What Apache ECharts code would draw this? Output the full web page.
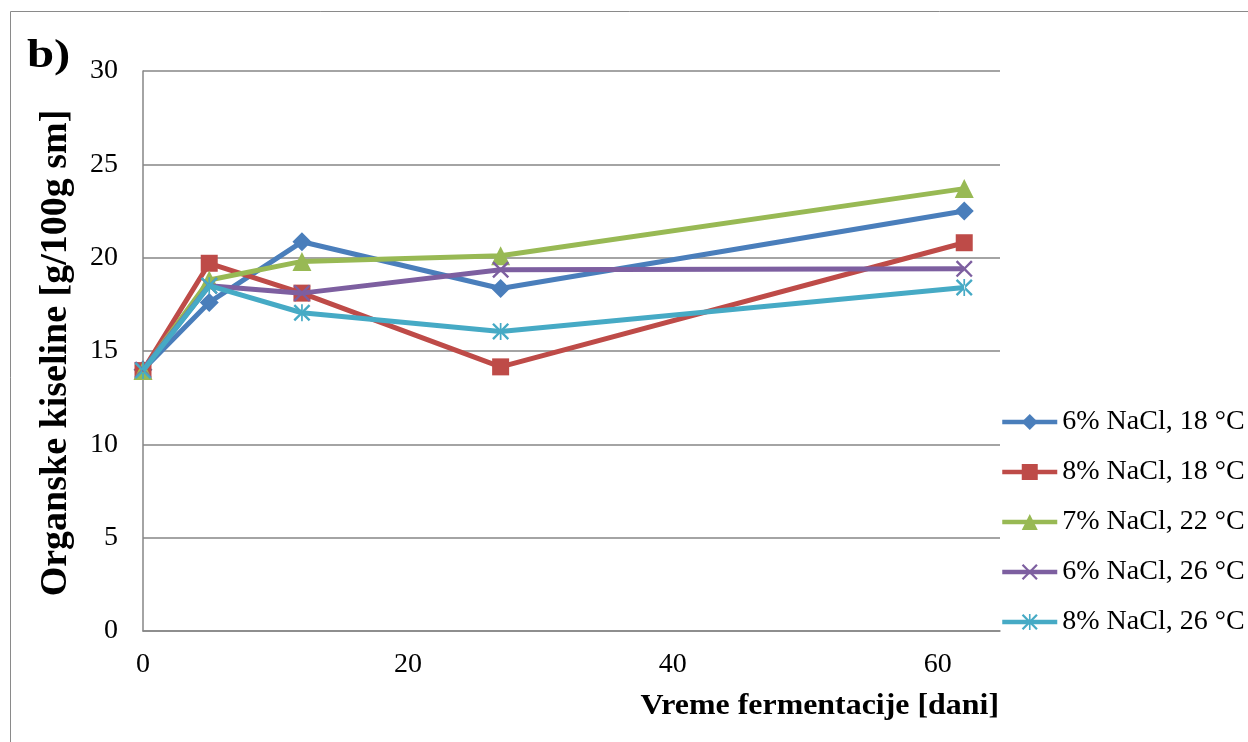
<!DOCTYPE html>
<html>
<head>
<meta charset="utf-8">
<script src="https://cdn.jsdelivr.net/npm/echarts@6/dist/echarts.min.js"></script>
<style>
html,body{margin:0;padding:0;background:#fff;overflow:hidden;}
#chart{width:1248px;height:742px;}
</style>
</head>
<body>
<div id="chart"></div>
<script>
// Data
const days = [0, 5, 12, 27, 62];
const seriesNames = ['6% NaCl, 18 °C', '8% NaCl, 18 °C', '7% NaCl, 22 °C', '6% NaCl, 26 °C', '8% NaCl, 26 °C'];
const s6_18 = [14.0, 17.6, 20.85, 18.35, 22.5];
const s8_18 = [13.95, 19.7, 18.1, 14.15, 20.8];
const s7_22 = [13.95, 18.8, 19.8, 20.1, 23.7];
const s6_26 = [14.0, 18.5, 18.1, 19.35, 19.4];
const s8_26 = [13.95, 18.5, 17.05, 16.05, 18.4];
const yTicks = [0, 5, 10, 15, 20, 25, 30];
const xTicks = [0, 20, 40, 60];
const panelLabel = 'b)';
const xTitle = 'Vreme fermentacije [dani]';
const yTitle = 'Organske kiseline [g/100g sm]';

const colors = ['#4A7EBB', '#BE4B48', '#98B954', '#7D5FA0', '#46AAC5'];
const xPath = 'path://M0,2 L2,0 L10,8 L18,0 L20,2 L12,10 L20,18 L18,20 L10,12 L2,20 L0,18 L8,10 Z';
const starPath = 'path://M0,2 L2,0 L10,8 L18,0 L20,2 L12,10 L20,18 L18,20 L10,12 L2,20 L0,18 L8,10 Z M9,0 L9,20 L11,20 L11,0 Z';
const symbols = ['diamond', 'rect', 'triangle', xPath, starPath];
const symSizes = [19, 17, 19, 17, 17];
const allData = [s6_18, s8_18, s7_22, s6_26, s8_26];

const font = '"Liberation Serif", "Times New Roman", serif';

const chart = echarts.init(document.getElementById('chart'));
chart.setOption({
  animation: false,
  backgroundColor: '#fff',
  textStyle: { fontFamily: font },
  grid: { left: 143, top: 71, width: 857, height: 560, containLabel: false },
  graphic: [
    { type: 'rect', shape: { x: 10.5, y: 11.5, width: 1400, height: 900 }, style: { fill: 'none', stroke: '#8a8a8a', lineWidth: 1 }, z: -10 },
    { type: 'text', x: 27, y: 57, scaleX: 1.25, style: { x: 0, y: 0, text: panelLabel, font: 'bold 39px ' + font, fill: '#000', align: 'left', verticalAlign: 'middle' } },
    { type: 'text', x: 999, y: 707, scaleX: 1.1, style: { x: 0, y: 0, text: xTitle, font: 'bold 29px ' + font, fill: '#000', align: 'right', verticalAlign: 'middle' } },
    { type: 'text', x: 56, y: 353, rotation: Math.PI / 2, style: { x: 0, y: 0, text: yTitle, font: 'bold 38px ' + font, fill: '#000', align: 'center', verticalAlign: 'middle' } }
  ],
  legend: {
    orient: 'vertical',
    left: 995,
    top: 403,
    padding: 5,
    itemWidth: 55,
    itemHeight: 20,
    itemGap: 22,
    lineStyle: { width: 4.5 },
    textStyle: { fontFamily: font, fontSize: 28, color: '#000' },
    data: seriesNames
  },
  xAxis: {
    type: 'value',
    min: 0,
    max: 64.7,
    interval: 20,
    axisLine: { show: true, onZero: false, lineStyle: { color: '#868686', width: 1.5 } },
    axisTick: { show: false },
    splitLine: { show: false },
    axisLabel: {
      margin: 20,
      fontFamily: font,
      fontSize: 28,
      color: '#000',
      customValues: xTicks
    }
  },
  yAxis: {
    type: 'value',
    min: 0,
    max: 30,
    interval: 5,
    axisLine: { show: true, lineStyle: { color: '#868686', width: 1.5 } },
    axisTick: { show: false },
    splitLine: { show: true, lineStyle: { color: '#868686', width: 1.5 } },
    axisLabel: { margin: 25, fontFamily: font, fontSize: 28, color: '#000', customValues: yTicks }
  },
  series: seriesNames.map((n, i) => ({
    name: n,
    type: 'line',
    data: days.map((d, j) => [d, allData[i][j]]),
    symbol: symbols[i],
    symbolSize: symSizes[i],
    showAllSymbol: true,
    lineStyle: { color: colors[i], width: 5 },
    itemStyle: { color: colors[i], borderWidth: 0 },
    z: 2 + i
  }))
});
</script>
</body>
</html>
